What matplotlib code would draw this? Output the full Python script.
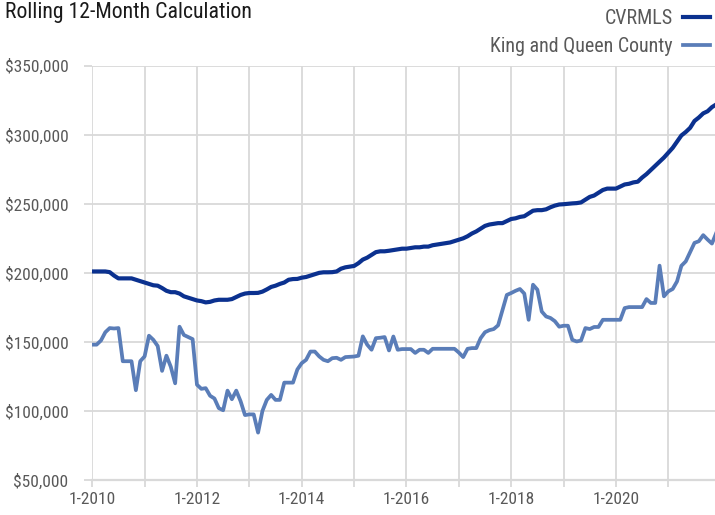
"""Rolling 12-month median price: CVRMLS vs King and Queen County."""

import matplotlib

matplotlib.use("Agg")
import matplotlib.pyplot as plt
from matplotlib import font_manager
from matplotlib.ticker import FixedLocator, FuncFormatter

# the reference uses a condensed grotesque; take the narrowest installed match
names = {(f.name, f.stretch) for f in font_manager.fontManager.ttflist}
stretch = "normal"
if any(n == "Roboto Condensed" for n, _ in names):
    family = "Roboto Condensed"
elif any(n == "Liberation Sans Narrow" for n, _ in names):
    family = "Liberation Sans Narrow"
elif ("DejaVu Sans", "condensed") in names or ("DejaVu Sans", "semi-condensed") in names:
    family = "DejaVu Sans"
    stretch = "condensed"
else:
    family = "Roboto"
plt.rcParams["font.family"] = [family, "DejaVu Sans"]
plt.rcParams["font.stretch"] = stretch

# monthly values, Jan 2010 .. Dec 2021, in thousands of dollars
cvrmls_k = [
    201, 201, 201, 201, 200.5, 198, 196, 196, 196, 196, 195, 194,
    193, 192, 191, 190.7, 189, 187, 186, 186, 185, 183, 182, 181,
    180, 179.5, 178.6, 179, 180, 180.5, 180.5, 180.5, 181, 182.5, 184, 185,
    185.4, 185.4, 185.5, 186.4, 188, 189.8, 190.7, 192, 193, 195, 195.5, 195.6,
    196.5, 197, 198, 199, 200, 200.4, 200.4, 200.5, 201, 203, 204, 204.5,
    205, 207, 209.6, 211, 213, 215, 215.6, 215.6, 216, 216.5, 217, 217.5,
    217.5, 218, 218.5, 218.5, 219, 219, 220, 220.5, 221, 221.5, 222, 223,
    224, 225, 226.5, 228.5, 230, 232, 234, 235, 235.5, 236, 236, 237.5,
    239, 239.5, 240.5, 241, 243, 245, 245.4, 245.4, 246, 247.5, 248.7, 249.5,
    249.7, 250, 250.3, 250.5, 251, 253, 255, 256, 258, 260, 261, 261,
    261, 262.5, 264, 264.5, 265.5, 266, 269, 271.5, 274.5, 277.5, 280.5, 283.5,
    287, 290.5, 295, 299.5, 302, 305, 310, 312.5, 315.5, 317, 320, 322,
]
kq_k = [
    148, 148, 151, 157, 160, 159.7, 160, 136, 136, 136, 115, 136,
    139.5, 154.5, 151.5, 147, 129, 140, 132, 120, 161, 155, 153.5, 152,
    119, 116, 116.5, 111, 109, 102, 100.5, 114.7, 108.5, 114.7, 107, 97,
    97.5, 97.5, 84.3, 100, 108, 111.6, 108, 108, 120.5, 120.5, 120.5, 130,
    134.6, 137, 143, 143, 139.5, 137, 136, 138.2, 138.5, 137, 139, 139.2,
    139.4, 140, 154, 148, 144.3, 152.7, 153, 153.5, 143.8, 153.9, 144.3, 144.8,
    144.8, 144.8, 142, 144.3, 144.3, 142, 145, 145, 145, 145, 145, 145,
    142.3, 139, 145, 145.5, 145.5, 152.7, 157, 158.5, 159.3, 162, 173, 184,
    185.4, 187, 188.3, 185, 166, 191.4, 187.8, 172, 168.4, 167.3, 165, 161,
    161.7, 161.7, 151.5, 150.3, 151, 160, 159.3, 160.8, 160.8, 166, 166, 166,
    166, 166, 174.5, 175.2, 175.2, 175.2, 175.2, 181, 178.2, 178.2, 205.2, 183,
    186.6, 188.3, 193.8, 205.1, 208.3, 215, 221.7, 222.9, 227.3, 224.1, 221.2, 229,
]
years = list(range(2010, 2022))
y_ticks = [50000, 100000, 150000, 200000, 250000, 300000, 350000]

months = list(range(len(cvrmls_k)))
cvrmls = [v * 1000 for v in cvrmls_k]
kq = [v * 1000 for v in kq_k]

fig = plt.figure(figsize=(7.15, 5.15), dpi=100)
ax = fig.add_axes([0.129, 0.068, 0.871, 0.8044])

grid_c = "#d9d9d9"
ax.plot(months, cvrmls, color="#0b318f", linewidth=3.0, label="CVRMLS", solid_joinstyle="round")
ax.plot(months, kq, color="#5a7db8", linewidth=2.7, label="King and Queen County", solid_joinstyle="round")

ax.set_xlim(0, 142.7)
ax.set_ylim(50000, 350000)

year_pos = [12 * (y - 2010) for y in years]
ax.xaxis.set_major_locator(FixedLocator(year_pos[::2]))
ax.xaxis.set_minor_locator(FixedLocator(year_pos[1::2]))
ax.set_xticklabels([f"1-{y}" for y in years[::2]])
ax.yaxis.set_major_locator(FixedLocator(y_ticks))
ax.yaxis.set_major_formatter(FuncFormatter(lambda v, p: f"${v:,.0f}"))

ax.grid(True, which="both", color=grid_c, linewidth=1.3)
ax.set_axisbelow(True)
for s in ["top", "right", "left"]:
    ax.spines[s].set_visible(False)
ax.spines["bottom"].set_color(grid_c)
ax.spines["bottom"].set_linewidth(1.6)

ax.tick_params(axis="both", which="both", color=grid_c, width=1.3, labelcolor="#595959", labelsize=12.5)
ax.tick_params(axis="y", length=6, pad=11)
ax.tick_params(axis="x", which="both", length=5, pad=4)

fig.text(0.007, 0.975, "Rolling 12-Month Calculation", fontsize=15.7, color="#1a1a1a", va="center", ha="left")

ax.legend(
    loc="upper right",
    bbox_to_anchor=(0.998, 0.99),
    bbox_transform=fig.transFigure,
    frameon=False,
    markerfirst=False,
    fontsize=14.4,
    labelcolor="#595959",
    handlelength=1.35,
    handletextpad=0.5,
    labelspacing=0.45,
    borderpad=0.1,
    borderaxespad=0.1,
)

fig.savefig("out.png", dpi=100)
